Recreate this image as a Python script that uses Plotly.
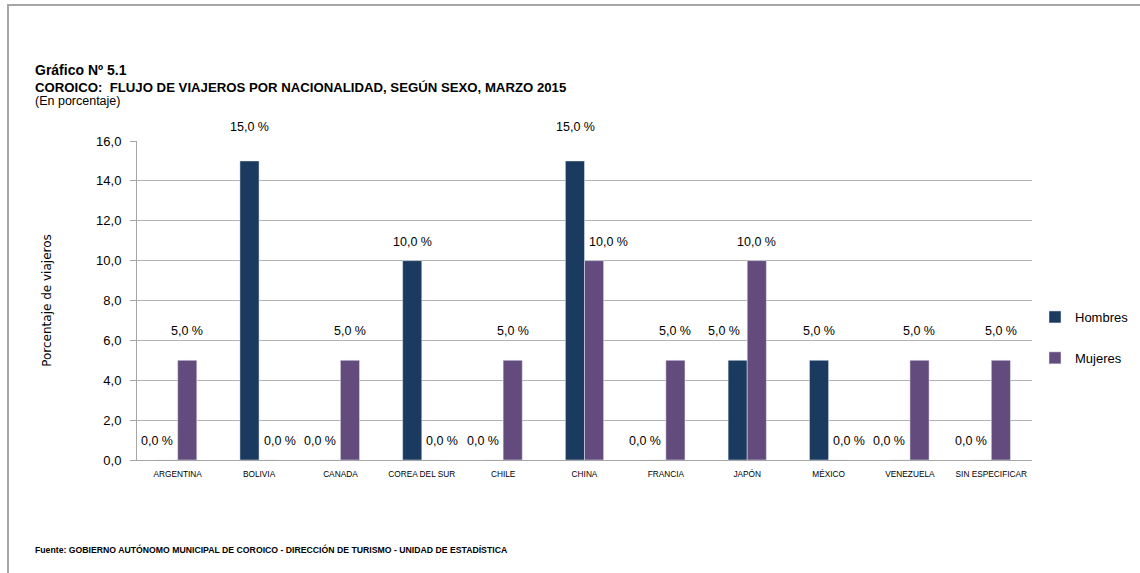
import plotly.graph_objects as go

categorias = ["ARGENTINA", "BOLIVIA", "CANADA", "COREA DEL SUR", "CHILE", "CHINA",
              "FRANCIA", "JAPÓN", "MÉXICO", "VENEZUELA", "SIN ESPECIFICAR"]
hombres = [0.0, 15.0, 0.0, 10.0, 0.0, 15.0, 0.0, 5.0, 5.0, 0.0, 0.0]
mujeres = [5.0, 0.0, 5.0, 0.0, 5.0, 10.0, 5.0, 10.0, 0.0, 5.0, 5.0]
y_ticks = [0, 2, 4, 6, 8, 10, 12, 14, 16]

W, H = 1140, 573
L, R, T, B = 137, 1032, 141, 460
PW, PH = R - L, B - T

def px(x):
    return (x - L) / PW

def py(y):
    return (B - y) / PH

C_H = "#1b3a5f"
C_M = "#634c7d"
FONT = "Liberation Sans, Arial, sans-serif"

fig = go.Figure()
fig.add_trace(go.Bar(x=categorias, y=hombres, name="Hombres", marker_color=C_H,
                     legendgroup="h"))
fig.add_trace(go.Bar(x=categorias, y=mujeres, name="Mujeres", marker_color=C_M,
                     legendgroup="m"))

def fmt(v):
    return f"{v:.1f}".replace(".", ",") + " %"

bar_half = 9.5
shift_by_value = {0.0: 10, 5.0: 20, 10.0: 10, 15.0: 25}
annotations = []
for serie, otra, sign in ((hombres, mujeres, -1), (mujeres, hombres, 1)):
    for cat, v, o in zip(categorias, serie, otra):
        xs = sign * bar_half
        if v == 0 and o > v:
            xs += sign * 11
        elif o > v:
            xs += sign * 14
        annotations.append(dict(x=cat, y=v, xref="x", yref="y", text=fmt(v),
                                showarrow=False, xshift=xs,
                                yshift=shift_by_value.get(v, 15),
                                yanchor="bottom",
                                font=dict(family=FONT, size=12.5, color="#000")))

annotations += [
    dict(x=px(33), y=py(70), xref="paper", yref="paper", xanchor="left", yanchor="middle",
         text="<b>Gráfico Nº 5.1</b>", showarrow=False,
         font=dict(family=FONT, size=14, color="#000")),
    dict(x=px(33), y=py(88), xref="paper", yref="paper", xanchor="left", yanchor="middle",
         text="<b>COROICO:  FLUJO DE VIAJEROS POR NACIONALIDAD, SEGÚN SEXO, MARZO 2015</b>",
         showarrow=False, font=dict(family=FONT, size=13.2, color="#000")),
    dict(x=px(33), y=py(101), xref="paper", yref="paper", xanchor="left", yanchor="middle",
         text="(En porcentaje)", showarrow=False,
         font=dict(family=FONT, size=12.5, color="#000")),
    dict(x=px(33), y=py(549), xref="paper", yref="paper", xanchor="left", yanchor="middle",
         text="<b>Fuente: GOBIERNO AUTÓNOMO MUNICIPAL DE COROICO - DIRECCIÓN DE TURISMO - UNIDAD DE ESTADÍSTICA</b>",
         showarrow=False, font=dict(family=FONT, size=8.7, color="#000")),
]

fig.update_layout(
    width=W, height=H,
    margin=dict(l=L, r=W - R, t=T, b=H - B, autoexpand=False),
    paper_bgcolor="white", plot_bgcolor="white",
    separators=",.",
    barmode="group", bargap=0.53, bargroupgap=0,
    showlegend=True,
    legend=dict(x=px(1035), y=py(302), xanchor="left", yanchor="top",
                traceorder="grouped", tracegroupgap=21,
                font=dict(family=FONT, size=13, color="#000"),
                itemwidth=30),
    annotations=annotations,
    shapes=[dict(type="rect", xref="paper", yref="paper",
                 x0=px(8), x1=px(1145), y0=py(580), y1=py(5),
                 line=dict(color="#a6a6a6", width=2), fillcolor="rgba(0,0,0,0)",
                 layer="below")],
)

fig.update_xaxes(showline=True, linecolor="#a6a6a6", linewidth=1,
                 tickfont=dict(family=FONT, size=8.3, color="#000"),
                 ticklabelstandoff=6,
                 ticks="", fixedrange=True)
fig.update_yaxes(range=[0, 16], tickvals=y_ticks, tickformat=".1f",
                 showgrid=True, gridcolor="#b3b3b3", gridwidth=1,
                 showline=True, linecolor="#a6a6a6", linewidth=1,
                 ticks="outside", ticklen=6, tickcolor="#a6a6a6",
                 ticklabelstandoff=6,
                 tickfont=dict(family=FONT, size=13, color="#000"),
                 title=dict(text="Porcentaje de viajeros", standoff=41,
                            font=dict(family="DejaVu Sans", size=12, color="#000")),
                 zeroline=False, fixedrange=True)

fig.write_html("out.html", config={"displayModeBar": False},
               post_script="document.body.style.margin='0';")
